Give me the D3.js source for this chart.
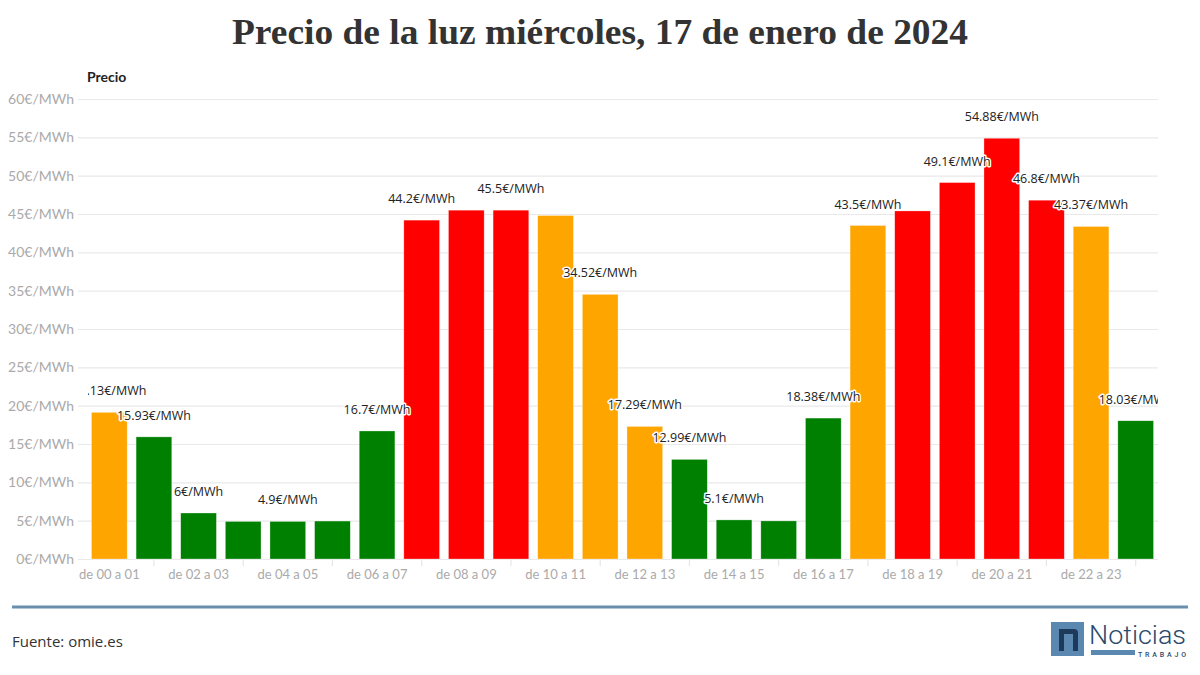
<!DOCTYPE html>
<html><head><meta charset="utf-8">
<script src="https://cdn.jsdelivr.net/npm/d3@7"></script>
<style>
html,body{margin:0;padding:0;background:#fff;}
svg{display:block;}
</style></head>
<body>
<svg id="chart" width="1200" height="675"></svg>
<script>
const title = "Precio de la luz miércoles, 17 de enero de 2024";
const yTitle = "Precio";
const source = "Fuente: omie.es";
const hours = ["de 00 a 01","de 01 a 02","de 02 a 03","de 03 a 04","de 04 a 05","de 05 a 06","de 06 a 07","de 07 a 08","de 08 a 09","de 09 a 10","de 10 a 11","de 11 a 12","de 12 a 13","de 13 a 14","de 14 a 15","de 15 a 16","de 16 a 17","de 17 a 18","de 18 a 19","de 19 a 20","de 20 a 21","de 21 a 22","de 22 a 23","de 23 a 24"];
const prices = [19.13,15.93,6,4.9,4.9,4.95,16.7,44.2,45.5,45.5,44.8,34.52,17.29,12.99,5.1,4.97,18.38,43.5,45.4,49.1,54.88,46.8,43.37,18.03];
const levels = ["medio","bajo","bajo","bajo","bajo","bajo","bajo","alto","alto","alto","medio","medio","medio","bajo","bajo","bajo","bajo","medio","alto","alto","alto","alto","medio","bajo"];
const yTicks = [0,5,10,15,20,25,30,35,40,45,50,55,60];
const levelColors = {alto:"#ff0000", medio:"#ffa500", bajo:"#008000"};

const svg = d3.select("#chart");
const fmt = v => `${v}€/MWh`;

// title
const t = svg.append("text").attr("x",600).attr("y",44).attr("text-anchor","middle")
  .attr("font-family","Liberation Serif, serif").attr("font-weight","bold")
  .attr("font-size",36).attr("fill","#333").text(title);
const tw = t.node().getComputedTextLength();
if (Math.abs(tw-736)>4) t.attr("textLength",736).attr("lengthAdjust","spacingAndGlyphs");

const x = d3.scaleBand().domain(hours).range([87,1158]).paddingInner(0.2).paddingOuter(0.1);
const y = d3.scaleLinear().domain([0,60]).range([559,99]);

// y title
svg.append("text").attr("x",87).attr("y",82).attr("font-family","Lato, sans-serif")
  .attr("font-weight","bold").attr("font-size",14).attr("fill","#222").text(yTitle);

// grid + y labels
const yAxis = d3.axisLeft(y).tickValues(yTicks).tickSize(-1080).tickFormat(d=>fmt(d)).tickPadding(4);
const gy = svg.append("g").attr("transform","translate(78,0)").call(yAxis);
gy.select(".domain").remove();
gy.selectAll(".tick line").attr("stroke","#e9e9e9").attr("stroke-width",1.2);
gy.selectAll(".tick text").attr("font-family","Lato, sans-serif").attr("font-size",14).attr("fill","#aaa");

// x axis
const xAxis = d3.axisBottom(x).tickSize(0).tickPadding(11)
  .tickFormat((d,i)=> i%2===0 ? d : "");
const gx = svg.append("g").attr("transform","translate(0,559)").call(xAxis);
gx.select(".domain").remove();
gx.selectAll(".tick text").attr("font-family","Lato, sans-serif").attr("font-size",13).attr("fill","#aaa");
gx.selectAll(".tick").filter((d,i)=>i%2===1).append("line")
  .attr("y1",0).attr("y2",7).attr("stroke","#e6e6e6").attr("stroke-width",1.2);

// bars
svg.append("g").selectAll("rect").data(prices).join("rect")
  .attr("x",(d,i)=>x(hours[i])).attr("width",x.bandwidth())
  .attr("y",d=>y(d)).attr("height",d=>y(0)-y(d))
  .attr("fill",(d,i)=>levelColors[levels[i]])
  .attr("stroke","#fff").attr("stroke-opacity",0.5).attr("stroke-width",0.6);

// labels with clip + collision avoidance
svg.append("clipPath").attr("id","plotclip").append("rect")
  .attr("x",88).attr("y",60).attr("width",1070).attr("height",520);
const lg = svg.append("g").attr("clip-path","url(#plotclip)");
const placed = [];
prices.forEach((v,i)=>{
  const cx = x(hours[i]) + x.bandwidth()/2;
  const ty = y(v) - 17;
  const el = lg.append("text").attr("x",cx).attr("y",ty).attr("text-anchor","middle")
    .attr("font-family","Open Sans, sans-serif").attr("font-size",12.5).attr("fill","#222")
    .attr("stroke","#fff").attr("stroke-width",3).attr("stroke-linejoin","round")
    .attr("paint-order","stroke").text(fmt(v));
  const w = el.node().getComputedTextLength();
  const box = {x0:cx-w/2, x1:cx+w/2, y0:ty-14, y1:ty+4};
  const hit = placed.some(b=> box.x0<b.x1 && box.x1>b.x0 && box.y0<b.y1 && box.y1>b.y0);
  if (hit) el.remove(); else placed.push(box);
});

// footer
svg.append("rect").attr("x",12).attr("y",605.5).attr("width",1176).attr("height",3).attr("fill","#6a8fad");
svg.append("text").attr("x",12).attr("y",647).attr("font-family","Open Sans, sans-serif")
  .attr("font-size",15).attr("fill","#333").text(source);

// logo
const logo = svg.append("g");
logo.append("rect").attr("x",1051).attr("y",622).attr("width",33).attr("height",34).attr("fill","#5a88b0");
logo.append("path").attr("d","M1059,651 V629 H1074 Q1078,629 1078,633 V651 H1073 V634 H1064 V651 Z").attr("fill","#1e3a5a");
logo.append("text").attr("x",1089).attr("y",644).attr("font-family","Roboto, sans-serif").attr("font-weight","300")
  .attr("font-size",26).attr("fill","#2a4a6c").attr("textLength",97).attr("lengthAdjust","spacingAndGlyphs").text("Noticias");
logo.append("rect").attr("x",1091).attr("y",650).attr("width",44).attr("height",5).attr("fill","#5a88b0");
logo.append("text").attr("x",1138).attr("y",657).attr("font-family","Roboto, sans-serif").attr("font-weight","500")
  .attr("font-size",7).attr("fill","#2a4a6c").attr("textLength",48).attr("lengthAdjust","spacing").text("TRABAJO");
</script>
</body></html>
